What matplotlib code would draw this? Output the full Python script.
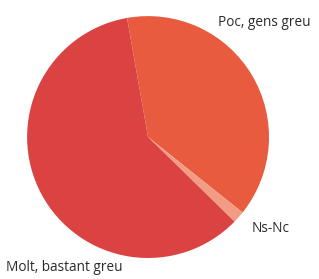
import matplotlib.pyplot as plt

labels = ['Poc, gens greu', 'Ns-Nc', 'Molt, bastant greu']
values = [38.5, 1.6, 59.9]
colors = ['#e95b3e', '#f29c84', '#db4242']

plt.rcParams['font.family'] = ['Open Sans', 'DejaVu Sans']

fig = plt.figure(figsize=(3.19, 2.79), dpi=100)
ax = fig.add_axes([0.0846, 0.0753, 0.759, 0.867])

ax.pie(values, colors=colors, startangle=100, counterclock=False,
       radius=1, wedgeprops=dict(linewidth=0))
ax.set_xlim(-1, 1)
ax.set_ylim(-1, 1)
ax.set_aspect('equal')
ax.axis('off')

# labels placed around the pie
fig.text(0.683, 0.92, labels[0], fontsize=9.8, color='#2a2a2a', va='center')
fig.text(0.79, 0.182, labels[1], fontsize=9.8, color='#2a2a2a', va='center')
fig.text(0.02, 0.04, labels[2], fontsize=9.8, color='#2a2a2a', va='center')

fig.savefig('out.png', dpi=100)
